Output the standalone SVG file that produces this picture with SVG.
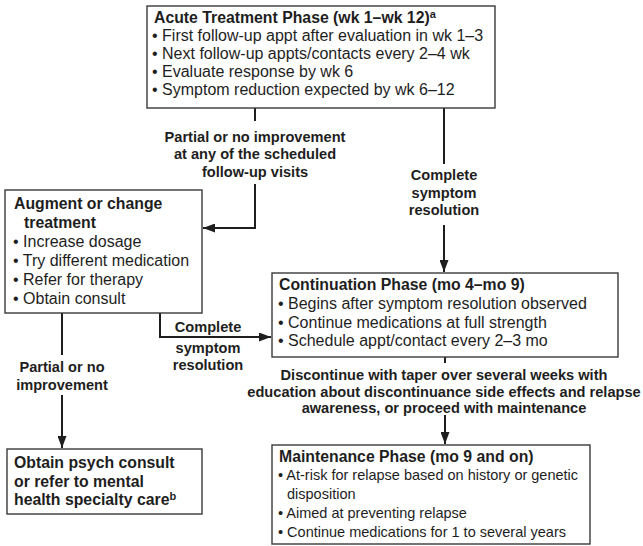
<svg xmlns="http://www.w3.org/2000/svg" width="643" height="546" viewBox="0 0 643 546">
  <style>
    .box { fill: #ffffff; stroke: #3a3a3a; stroke-width: 1.4; }
    .t { font-family: "Liberation Sans", Arial, sans-serif; font-size: 16px; fill: #1e1e1e; }
    .t15 { font-size: 14.5px; }
    .h { font-family: "Liberation Sans", Arial, sans-serif; font-size: 15.8px; font-weight: bold; fill: #1e1e1e; }
    .lbl { font-family: "Liberation Sans", Arial, sans-serif; font-size: 14.6px; font-weight: bold; fill: #1e1e1e; text-anchor: middle; }
    .sup { font-size: 11px; }
    .wire { fill: none; stroke: #1e1e1e; stroke-width: 2; }
  </style>
  <defs>
    <marker id="arrow" viewBox="0 0 12 9" refX="12" refY="4.5" markerWidth="12" markerHeight="9" markerUnits="userSpaceOnUse" orient="auto">
      <path d="M0,0 L12,4.5 L0,9 Z" fill="#1e1e1e"/>
    </marker>
  </defs>
  <rect width="643" height="546" fill="#ffffff"/>

  <!-- Connectors and their labels -->
  <g id="connectors">
    <path class="wire" d="M255,108 V121"/>
    <path class="wire" d="M255,184 V228 H203" marker-end="url(#arrow)"/>
    <path class="wire" d="M444,108 V164"/>
    <path class="wire" d="M444,225 V272" marker-end="url(#arrow)"/>
    <path class="wire" d="M62,313 V355"/>
    <path class="wire" d="M62,395 V448" marker-end="url(#arrow)"/>
    <path class="wire" d="M160,313 V337 H271" marker-end="url(#arrow)"/>
    <path class="wire" d="M445,357 V363"/>
    <path class="wire" d="M445,415 V444" marker-end="url(#arrow)"/>
    <text class="lbl" x="255" y="142">Partial or no improvement</text>
    <text class="lbl" x="255" y="159">at any of the scheduled</text>
    <text class="lbl" x="255" y="177">follow-up visits</text>
    <text class="lbl" x="444" y="180">Complete</text>
    <text class="lbl" x="444" y="198">symptom</text>
    <text class="lbl" x="444" y="215">resolution</text>
    <text class="lbl" x="208" y="332">Complete</text>
    <text class="lbl" x="208" y="353">symptom</text>
    <text class="lbl" x="208" y="370">resolution</text>
    <text class="lbl" x="62" y="372">Partial or no</text>
    <text class="lbl" x="62" y="390">improvement</text>
    <text class="lbl" x="444" y="380">Discontinue with taper over several weeks with</text>
    <text class="lbl" x="444" y="397">education about discontinuance side effects and relapse</text>
    <text class="lbl" x="444" y="413">awareness, or proceed with maintenance</text>
  </g>

  <g id="acute">
    <rect class="box" x="147" y="6" width="348" height="102"/>
    <text class="h" x="154" y="23">Acute Treatment Phase (wk 1–wk 12)<tspan class="sup" dy="-5">a</tspan></text>
    <text class="t" x="152" y="41">• First follow-up appt after evaluation in wk 1–3</text>
    <text class="t" x="152" y="59">• Next follow-up appts/contacts every 2–4 wk</text>
    <text class="t" x="152" y="77">• Evaluate response by wk 6</text>
    <text class="t" x="152" y="95">• Symptom reduction expected by wk 6–12</text>
  </g>

  <g id="augment">
    <rect class="box" x="5" y="190" width="197" height="123"/>
    <text class="h" x="14" y="209">Augment or change</text>
    <text class="h" x="24" y="228">treatment</text>
    <text class="t" x="13" y="247">• Increase dosage</text>
    <text class="t" x="13" y="266">• Try different medication</text>
    <text class="t" x="13" y="285">• Refer for therapy</text>
    <text class="t" x="13" y="304">• Obtain consult</text>
  </g>

  <g id="continuation">
    <rect class="box" x="272" y="273" width="346" height="84"/>
    <text class="h" x="279" y="290">Continuation Phase (mo 4–mo 9)</text>
    <text class="t" x="278" y="309">• Begins after symptom resolution observed</text>
    <text class="t" x="278" y="328">• Continue medications at full strength</text>
    <text class="t" x="278" y="346">• Schedule appt/contact every 2–3 mo</text>
  </g>

  <g id="psych">
    <rect class="box" x="7" y="449" width="195" height="65"/>
    <text class="h" x="14" y="468">Obtain psych consult</text>
    <text class="h" x="14" y="487">or refer to mental</text>
    <text class="h" x="14" y="505">health specialty care<tspan class="sup" dy="-5">b</tspan></text>
  </g>

  <g id="maintenance">
    <rect class="box" x="272" y="445" width="318" height="99"/>
    <text class="h" x="279" y="462">Maintenance Phase (mo 9 and on)</text>
    <text class="t t15" x="278" y="480">• At-risk for relapse based on history or genetic</text>
    <text class="t t15" x="287" y="499">disposition</text>
    <text class="t t15" x="278" y="518">• Aimed at preventing relapse</text>
    <text class="t t15" x="278" y="537">• Continue medications for 1 to several years</text>
  </g>
</svg>
